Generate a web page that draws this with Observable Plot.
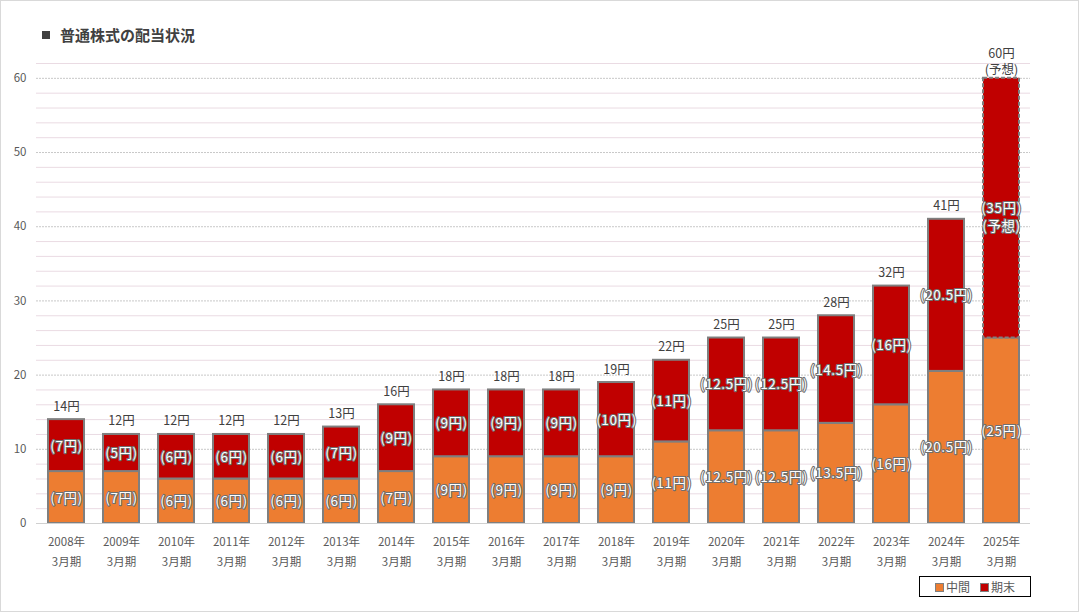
<!DOCTYPE html>
<html><head><meta charset="utf-8">
<script src="https://cdn.jsdelivr.net/npm/d3@7"></script>
<script src="https://cdn.jsdelivr.net/npm/@observablehq/plot@0.6"></script>
<style>
body{margin:0;background:#fff;font-family:"Noto Sans CJK JP","Noto Sans",sans-serif;}
#wrap{position:relative;width:1079px;height:612px;overflow:hidden;}
#frame{position:absolute;left:0;top:0;width:1077px;height:610px;border:1px solid #d9d9d9;pointer-events:none;}
#title{position:absolute;left:42px;top:24px;font-size:15px;font-weight:bold;color:#404040;}
#title .sq{display:inline-block;width:8px;height:8px;background:#404040;margin-right:10px;vertical-align:2px;}
#legend{position:absolute;left:919px;top:576px;width:110px;height:19px;border:1px solid #000;font-size:12px;color:#595959;display:flex;align-items:center;justify-content:center;gap:10px;}
#legend span.k{display:inline-block;width:7px;height:7px;border:1.5px solid #7f7f7f;margin-right:2px;vertical-align:0px;}
.inlabel text{letter-spacing:0.6px;}
</style></head>
<body><div id="wrap">
<div id="chart"></div>
<div id="title"><span class="sq"></span>普通株式の配当状況</div>
<div id="legend"><span><span class="k" style="background:#ed7d31"></span>中間</span><span><span class="k" style="background:#c00000"></span>期末</span></div>
<div id="frame"></div>
</div>
<script>
const years = ["2008","2009","2010","2011","2012","2013","2014","2015","2016","2017","2018","2019","2020","2021","2022","2023","2024","2025"];
const interim = [7,7,6,6,6,6,7,9,9,9,9,11,12.5,12.5,13.5,16,20.5,25];
const finalDiv = [7,5,6,6,6,7,9,9,9,9,10,11,12.5,12.5,14.5,16,20.5,35];
const forecastYear = "2025";
const yTicks = [0,10,20,30,40,50,60];

const rows = [];
years.forEach((yr,i)=>{
  rows.push({year:yr, series:"中間", y1:0, y2:interim[i], v:interim[i], fc:false});
  rows.push({year:yr, series:"期末", y1:interim[i], y2:interim[i]+finalDiv[i], v:finalDiv[i], fc: yr===forecastYear});
});
const totals = years.map((yr,i)=>({year:yr, total: interim[i]+finalDiv[i], fc: yr===forecastYear}));
const fmt = v => `(${v}円)`;
const majorGrid = d3.range(0,61,10);
const minorGrid = d3.range(0,63,2).filter(v=>v%10!==0);
const font = '"Noto Sans CJK JP","Noto Sans",sans-serif';
const labelStyle = {fill:"white", stroke:"#707070", strokeWidth:2.2, paintOrder:"stroke", fontSize:13.5, lineHeight:1.15, className:"inlabel"};

const chart = Plot.plot({
  width:1079, height:612,
  marginLeft:36, marginRight:49, marginTop:63, marginBottom:89,
  style:{fontFamily:font, fontSize:"11px", color:"#595959", background:"transparent"},
  x:{domain:years, paddingInner:0.35, paddingOuter:0.175, label:null},
  y:{domain:[0,62], label:null},
  color:{domain:["中間","期末"], range:["#ed7d31","#c00000"]},
  marks:[
    Plot.ruleY(minorGrid,{stroke:"#eadbe3", strokeWidth:1}),
    Plot.ruleY(majorGrid,{stroke:"#c8c8c8", strokeWidth:1, strokeDasharray:"2,1"}),
    Plot.axisY(yTicks,{tickSize:0, tickPadding:10, fontSize:11.5, fill:"#595959", label:null}),
    Plot.axisX({tickSize:0, tickPadding:8, fontSize:11.5, fill:"#595959", lineHeight:1.75, label:null,
      tickFormat: d=>`${d}年\n3月期`}),
    Plot.barY(rows.filter(d=>!d.fc),{x:"year", y1:"y1", y2:"y2", fill:"series", stroke:"#7f7f7f", strokeWidth:2}),
    Plot.barY(rows.filter(d=>d.fc),{x:"year", y1:"y1", y2:"y2", fill:"series", stroke:"#7f7f7f", strokeWidth:2, strokeDasharray:"4,2"}),
    Plot.ruleY([0],{stroke:"#d0d0d0"}),
    Plot.text(rows.filter(d=>!d.fc),{x:"year", y:d=>(d.y1+d.y2)/2, text:d=>fmt(d.v), ...labelStyle}),
    Plot.text(rows.filter(d=>d.fc),{x:"year", y:d=>(d.y1+d.y2)/2, text:d=>fmt(d.v)+"\n(予想)", ...labelStyle, lineHeight:1.3, dy:8}),
    Plot.text(totals.filter(d=>!d.fc),{x:"year", y:"total", text:d=>`${d.total}円`,
      fill:"#404040", fontSize:12.5, lineAnchor:"bottom", dy:-9}),
    Plot.text(totals.filter(d=>d.fc),{x:"year", y:"total", text:d=>`${d.total}円\n(予想)`,
      fill:"#404040", fontSize:12.5, lineAnchor:"bottom", dy:-4, lineHeight:1.3})
  ]
});
document.getElementById("chart").appendChild(chart);
</script>
</body></html>
